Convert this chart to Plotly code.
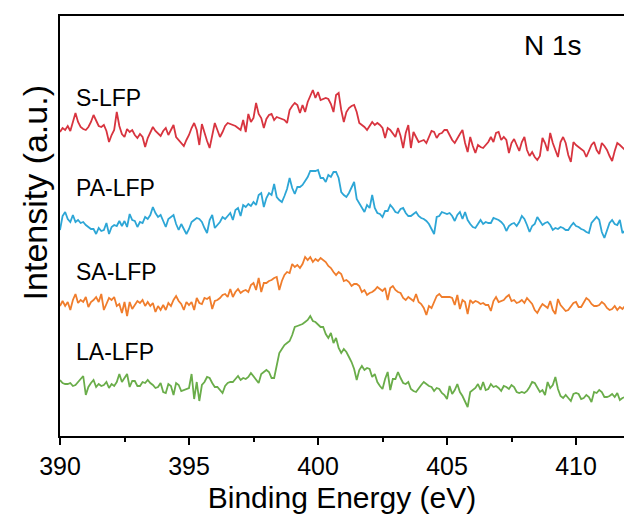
import plotly.graph_objects as go

# Binding energy grid (eV): start, step, number of points
energy_start = 390.0
energy_step = 0.1
n_points = 221
energy = [round(energy_start + i * energy_step, 1) for i in range(n_points)]

s_lfp = [
    304, 308, 306, 310, 305, 315, 323, 314, 309, 307,
    306, 309, 314, 321, 315, 310, 309, 311, 305, 294,
    301, 306, 324, 310, 302, 299, 307, 304, 306, 301,
    298, 302, 299, 289, 298, 303, 309, 305, 302, 300,
    305, 308, 301, 306, 311, 299, 296, 294, 290, 296,
    301, 308, 313, 306, 291, 312, 303, 295, 288, 301,
    313, 306, 299, 304, 310, 313, 312, 311, 310, 308,
    306, 316, 304, 322, 314, 318, 333, 322, 318, 308,
    317, 321, 322, 316, 319, 318, 317, 316, 313, 326,
    330, 333, 331, 323, 331, 324, 334, 340, 346, 338,
    344, 336, 337, 338, 337, 332, 324, 341, 343, 326,
    314, 324, 328, 330, 331, 324, 313, 311, 309, 306,
    310, 314, 311, 313, 311, 308, 298, 308, 306, 303,
    299, 308, 300, 288, 303, 311, 288, 304, 299, 294,
    295, 296, 293, 299, 305, 304, 298, 302, 303, 306,
    306, 301, 296, 293, 298, 302, 306, 293, 284, 299,
    290, 283, 291, 289, 288, 291, 294, 299, 294, 303,
    304, 296, 299, 296, 283, 293, 297, 291, 285, 294,
    299, 286, 280, 284, 279, 276, 280, 298, 293, 285,
    303, 293, 285, 279, 294, 299, 293, 281, 274, 294,
    291, 289, 287, 285, 279, 286, 291, 294, 286, 282,
    293, 290, 286, 280, 275, 285, 293, 291, 288, 286, 289,
]

pa_lfp = [
    206, 220, 224, 217, 214, 221, 214, 216, 213, 214,
    211, 209, 207, 207, 202, 208, 205, 206, 213, 202,
    209, 211, 210, 215, 210, 215, 209, 222, 216, 215,
    209, 214, 213, 219, 217, 221, 229, 223, 219, 221,
    214, 209, 217, 219, 221, 212, 206, 212, 207, 202,
    207, 214, 216, 218, 217, 214, 208, 203, 216, 221,
    208, 211, 214, 219, 217, 220, 223, 216, 226, 228,
    220, 231, 229, 232, 230, 234, 231, 241, 243, 229,
    238, 243, 241, 252, 239, 236, 234, 240, 247, 258,
    248, 242, 249, 249, 251, 255, 259, 265, 265, 265,
    266, 258, 258, 254, 261, 259, 264, 264, 258, 244,
    241, 239, 243, 248, 254, 237, 233, 229, 224, 231,
    228, 241, 228, 223, 222, 219, 225, 225, 231, 228,
    224, 223, 227, 228, 223, 220, 220, 222, 224, 220,
    218, 217, 215, 212, 207, 202, 219, 220, 224, 223,
    222, 223, 220, 215, 221, 224, 217, 224, 216, 212,
    209, 208, 212, 216, 212, 214, 213, 213, 218, 217,
    216, 214, 211, 205, 210, 212, 213, 210, 214, 220,
    217, 211, 204, 210, 212, 219, 215, 211, 213, 214,
    211, 206, 208, 207, 209, 208, 206, 206, 210, 213,
    210, 209, 207, 206, 204, 203, 213, 216, 219, 216,
    204, 198, 206, 213, 216, 212, 211, 216, 203, 206, 208,
]

sa_lfp = [
    130, 135, 130, 134, 126, 136, 142, 133, 136, 134,
    139, 129, 134, 136, 139, 134, 142, 126, 132, 138,
    136, 139, 130, 132, 123, 134, 120, 134, 127, 131,
    135, 133, 136, 130, 134, 130, 133, 124, 130, 126,
    131, 126, 133, 130, 136, 140, 135, 132, 126, 134,
    131, 134, 126, 138, 133, 132, 138, 137, 139, 127,
    135, 136, 138, 141, 142, 139, 147, 139, 144, 147,
    143, 145, 146, 144, 151, 153, 146, 158, 144, 153,
    153, 155, 156, 158, 159, 146, 155, 161, 164, 163,
    172, 169, 171, 168, 172, 179, 176, 179, 174, 177,
    175, 178, 176, 174, 170, 168, 164, 161, 164, 162,
    155, 156, 154, 150, 152, 152, 150, 144, 146, 141,
    143, 144, 146, 149, 147, 145, 148, 136, 148, 150,
    146, 144, 143, 138, 136, 139, 137, 135, 142, 134,
    132, 128, 121, 130, 128, 134, 140, 142, 139, 139,
    139, 139, 138, 131, 141, 127, 136, 134, 122, 136,
    133, 135, 134, 132, 133, 131, 131, 125, 135, 139,
    134, 135, 136, 139, 141, 135, 136, 133, 134, 136,
    133, 138, 135, 132, 126, 123, 128, 132, 130, 128,
    135, 126, 122, 137, 131, 128, 125, 126, 130, 133,
    134, 129, 129, 134, 138, 136, 132, 130, 130, 131,
    134, 132, 128, 126, 127, 130, 126, 129, 127, 130, 128,
]

la_lfp = [
    56, 53, 52, 52, 53, 50, 51, 54, 56, 60,
    41, 49, 53, 56, 49, 52, 50, 51, 54, 48,
    52, 50, 54, 62, 54, 58, 62, 49, 55, 55,
    50, 50, 54, 53, 56, 53, 51, 48, 49, 53,
    44, 43, 52, 50, 41, 53, 51, 45, 46, 47,
    48, 62, 37, 54, 35, 51, 54, 59, 58, 53,
    49, 49, 46, 43, 50, 53, 54, 54, 57, 60,
    56, 58, 57, 59, 63, 60, 56, 53, 62, 64,
    66, 64, 58, 58, 71, 83, 87, 91, 93, 95,
    101, 109, 110, 111, 112, 114, 116, 120, 115, 114,
    111, 109, 109, 102, 98, 103, 93, 98, 88, 83,
    87, 84, 79, 74, 67, 56, 66, 70, 66, 68,
    67, 59, 62, 54, 50, 47, 57, 64, 46, 57,
    57, 64, 58, 53, 52, 54, 47, 45, 44, 48,
    51, 54, 52, 50, 49, 45, 48, 47, 43, 41,
    37, 50, 42, 46, 52, 44, 40, 35, 29, 44,
    46, 48, 52, 46, 54, 46, 47, 52, 49, 50,
    48, 45, 50, 49, 47, 51, 49, 44, 43, 44,
    43, 45, 49, 54, 53, 48, 44, 46, 41, 54,
    48, 51, 59, 47, 40, 38, 41, 38, 35, 42,
    43, 42, 37, 38, 41, 39, 34, 44, 43, 46,
    44, 39, 39, 40, 42, 39, 43, 36, 38, 39, 39,
]

series_names = ["S-LFP", "PA-LFP", "SA-LFP", "LA-LFP"]
series_values = [s_lfp, pa_lfp, sa_lfp, la_lfp]
series_colors = ["#D8343F", "#2DA6D6", "#F07D2C", "#6AAD4A"]
label_y = [338, 248, 164, 84]

FONT = "Arial, Liberation Sans, sans-serif"

fig = go.Figure()
for name, vals, col in zip(series_names, series_values, series_colors):
    fig.add_trace(go.Scatter(x=energy, y=vals, mode="lines", name=name,
                             line=dict(color=col, width=1.8), showlegend=False))

for name, ly in zip(series_names, label_y):
    fig.add_annotation(x=390.55, y=ly, xref="x", yref="y", text=name, showarrow=False,
                       xanchor="left", yanchor="middle",
                       font=dict(family=FONT, size=23, color="black"))

fig.add_annotation(x=409.1, y=391, xref="x", yref="y", text="N 1s", showarrow=False,
                   xanchor="center", yanchor="middle",
                   font=dict(family=FONT, size=28, color="black"))

# y-axis title placed as rotated text
fig.add_annotation(x=-0.044, y=0.578, xref="paper", yref="paper", text="Intensity (a.u.)",
                   showarrow=False, textangle=-90, xanchor="center", yanchor="middle",
                   font=dict(family=FONT, size=34, color="black"))

fig.update_layout(
    width=624, height=522,
    margin=dict(l=60, r=0, t=16, b=86),
    plot_bgcolor="white", paper_bgcolor="white",
    font=dict(family=FONT, color="black"),
    showlegend=False,
)
fig.update_xaxes(
    range=[390, 411.86], showline=True, linecolor="black", linewidth=2, mirror=True,
    ticks="outside", ticklen=7, tickwidth=2, tickcolor="black",
    tickmode="linear", tick0=390, dtick=5,
    tickfont=dict(family=FONT, size=25, color="black"),
    minor=dict(dtick=2.5, tick0=390, ticks="outside", ticklen=4, tickwidth=2,
               tickcolor="black", showgrid=False),
    showgrid=False, zeroline=False,
    title=dict(text="Binding Energy (eV)", font=dict(family=FONT, size=30, color="black"),
               standoff=8),
)
fig.update_yaxes(
    range=[0, 420], showline=True, linecolor="black", linewidth=2, mirror=False,
    ticks="", showticklabels=False, showgrid=False, zeroline=False,
)

fig.write_html("out.html")
